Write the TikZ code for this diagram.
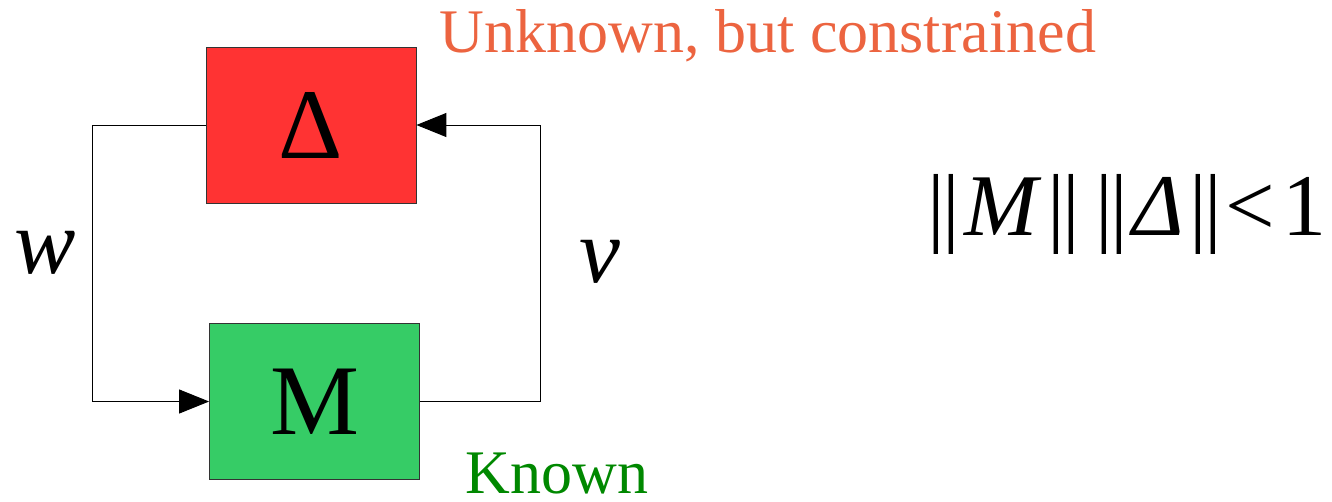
\documentclass[tikz,border=0pt]{standalone}
\usepackage{fontspec}
\setmainfont{Liberation Serif}
\usetikzlibrary{arrows.meta}
\definecolor{DeltaClr}{RGB}{255,51,51}
\definecolor{MClr}{RGB}{54,204,102}
\definecolor{UnknownClr}{RGB}{236,100,64}
\definecolor{KnownClr}{RGB}{0,136,0}
\newcommand{\fsz}[1]{\fontsize{#1}{#1}\selectfont}
\newcommand{\nrm}[1]{|\kern-0.03em|\kern0.05em#1\kern0.07em|\kern-0.03em|}

\begin{document}
\begin{tikzpicture}[x=1pt,y=-1pt,
  block/.style={draw=black!80,line width=0.8pt,inner sep=0pt,minimum width=210pt,minimum height=156pt,font=\fsz{100}},
  link/.style={line width=1pt,-{Triangle[length=30pt,width=24pt]}},
  sig/.style={font=\fsz{92}\itshape},
  lbl/.style={inner sep=1pt,font=\fsz{62}}]
\useasboundingbox (0,0) rectangle (1332,501);

\node[block,fill=DeltaClr] (delta) at (311,125) {\raisebox{-4pt}{Δ}};
\node[block,fill=MClr] (m) at (314.5,401.5) {M};

\draw[link] (delta.west) -- ++(-113,0) |- (m.west);
\draw[link] (m.east) -- ++(121,0) |- (delta.east);

\node[sig] (w) at (45,253) {w};
\node[sig] (v) at (600,262) {v};

\node[lbl,text=UnknownClr] (unknown) at (768,36) {Unknown, but constrained};
\node[lbl,text=KnownClr,inner ysep=0pt] (known) at (557,473) {Known};
\node[inner sep=1pt,font=\fsz{88}] (cond) at (1127,214) {\nrm{\textit{M}}\,\nrm{\textit{Δ}}\kern0.04em<\kern0.08em1};
\end{tikzpicture}
\end{document}
